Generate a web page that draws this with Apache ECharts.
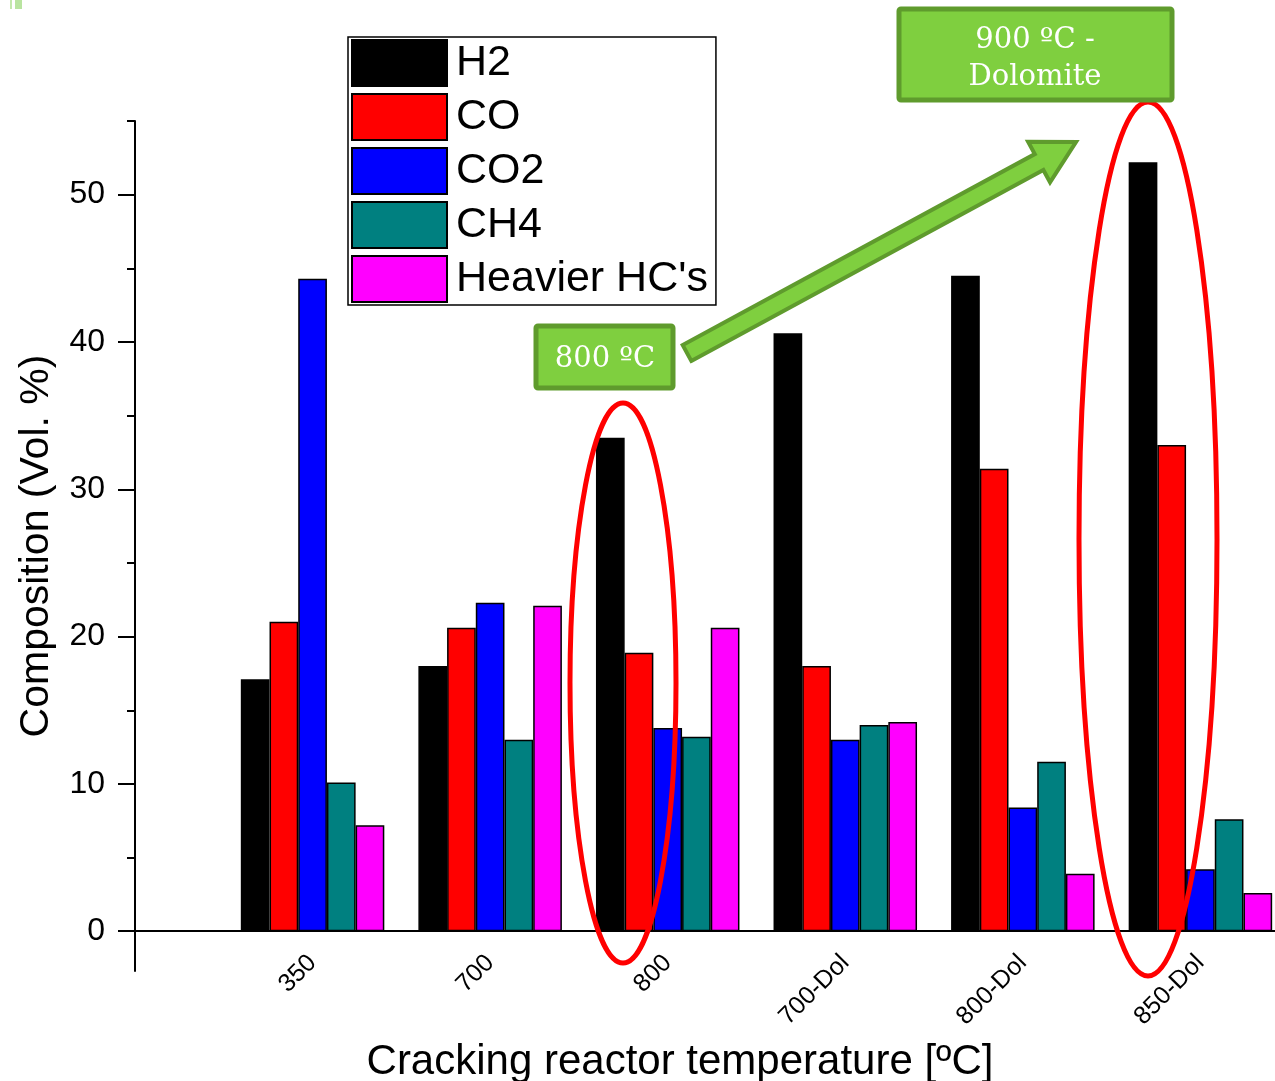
<!DOCTYPE html>
<html>
<head>
<meta charset="utf-8">
<script src="https://cdn.jsdelivr.net/npm/echarts@6/dist/echarts.min.js"></script>
<style>
  html, body { margin: 0; padding: 0; background: #fff; }
  #chart { width: 1275px; height: 1081px; }
</style>
</head>
<body>
<div id="chart"></div>
<script>
  // categories (x axis)
  const categories = ['350', '700', '800', '700-Dol', '800-Dol', '850-Dol'];
  // composition, vol. %
  const h2 = [17.1, 18.0, 33.5, 40.6, 44.5, 52.2];
  const co = [21.0, 20.6, 18.9, 18.0, 31.4, 33.0];
  const co2 = [44.3, 22.3, 13.8, 13.0, 8.4, 4.2];
  const ch4 = [10.1, 13.0, 13.2, 14.0, 11.5, 7.6];
  const heavier = [7.2, 22.1, 20.6, 14.2, 3.9, 2.6];
  const majorTicks = [0, 10, 20, 30, 40, 50];
  const minorTicks = [5, 15, 25, 35, 45, 55];

  const FONT = 'Liberation Sans, Arial, sans-serif';
  const SERIF = 'DejaVu Serif, serif';
  const GREEN = '#7fcf3f';
  const GREEN_DARK = '#5f9b2d';

  function toPoints(arr) {
    return arr.map((v, i) => [i + 1, v]);
  }

  function barSeries(name, color, values) {
    return {
      name: name,
      type: 'bar',
      barWidth: 28.7,
      barGap: '0%',
      itemStyle: { color: color, borderColor: '#000', borderWidth: 1.5 },
      data: toPoints(values)
    };
  }

  // arrow polygon (annotation) from tail to tip
  function arrowPoints(tail, tip, body, head, headLen) {
    const dx = tip[0] - tail[0], dy = tip[1] - tail[1];
    const len = Math.sqrt(dx * dx + dy * dy);
    const ux = dx / len, uy = dy / len;
    const nx = -uy, ny = ux;
    const hb = [tip[0] - ux * headLen, tip[1] - uy * headLen];
    return [
      [tail[0] + nx * body, tail[1] + ny * body],
      [hb[0] + nx * body, hb[1] + ny * body],
      [hb[0] + nx * head, hb[1] + ny * head],
      tip,
      [hb[0] - nx * head, hb[1] - ny * head],
      [hb[0] - nx * body, hb[1] - ny * body],
      [tail[0] - nx * body, tail[1] - ny * body]
    ];
  }

  const chart = echarts.init(document.getElementById('chart'));
  const option = {
    backgroundColor: '#fff',
    animation: false,
    grid: { left: 135, right: 0, top: 121, bottom: 110, outerBoundsMode: 'none', containLabel: false },
    legend: {
      orient: 'vertical',
      left: 348,
      top: 37,
      itemWidth: 95,
      itemHeight: 46,
      itemGap: 6,
      padding: [2, 8, 2, 3],
      borderColor: '#000',
      borderWidth: 1.5,
      backgroundColor: '#fff',
      icon: 'rect',
      itemStyle: { borderColor: '#000', borderWidth: 2 },
      textStyle: { fontFamily: FONT, fontSize: 43, lineHeight: 46, color: '#000', padding: [0, 0, 0, 4] },
      data: ['H2', 'CO', 'CO2', 'CH4', "Heavier HC's"]
    },
    xAxis: {
      type: 'value',
      min: 0,
      max: 6.42,
      name: 'Cracking reactor temperature [ºC]',
      nameLocation: 'middle',
      nameGap: 70,
      nameTextStyle: { fontFamily: FONT, fontSize: 42, color: '#000', padding: [0, 50, 0, 0] },
      axisLine: { onZero: true, lineStyle: { color: '#000', width: 2 } },
      axisTick: { show: false },
      splitLine: { show: false },
      axisLabel: {
        customValues: [1, 2, 3, 4, 5, 6],
        formatter: v => categories[Math.round(v) - 1],
        rotate: 45,
        margin: -12,
        fontFamily: FONT,
        fontSize: 25,
        color: '#000'
      }
    },
    yAxis: [{
      type: 'value',
      min: -2.7,
      max: 55,
      name: 'Composition (Vol. %)',
      nameLocation: 'middle',
      nameRotate: 90,
      nameGap: 78,
      nameTextStyle: { fontFamily: FONT, fontSize: 41, color: '#000' },
      axisLine: { show: true, onZero: false, lineStyle: { color: '#000', width: 2 } },
      axisTick: { show: true, customValues: majorTicks, length: 17, lineStyle: { color: '#000', width: 2 } },
      axisLabel: { customValues: majorTicks, margin: 30, fontFamily: FONT, fontSize: 32, color: '#000' },
      splitLine: { show: false }
    }, {
      type: 'value',
      min: -2.7,
      max: 55,
      position: 'left',
      offset: 0,
      axisLine: { show: false, onZero: false },
      axisTick: { show: true, customValues: minorTicks, length: 8, lineStyle: { color: '#000', width: 2 } },
      axisLabel: { show: false },
      splitLine: { show: false }
    }],
    series: [
      barSeries('H2', '#000000', h2),
      barSeries('CO', '#ff0000', co),
      barSeries('CO2', '#0000ff', co2),
      barSeries('CH4', '#008080', ch4),
      barSeries("Heavier HC's", '#ff00ff', heavier)
    ],
    graphic: [
      // little artefact in the corner
      { type: 'rect', z: 100, shape: { x: 10, y: 0, width: 2, height: 9 }, style: { fill: '#c4e8ad' } },
      { type: 'rect', z: 100, shape: { x: 15, y: 0, width: 7, height: 9 }, style: { fill: '#b9e4a0' } },
      // red ellipses
      { type: 'ellipse', z: 100, shape: { cx: 623, cy: 683, rx: 53, ry: 280 },
        style: { fill: 'none', stroke: '#ff0000', lineWidth: 5 } },
      { type: 'ellipse', z: 100, shape: { cx: 1148, cy: 539, rx: 69, ry: 437 },
        style: { fill: 'none', stroke: '#ff0000', lineWidth: 5 } },
      // arrow
      { type: 'polygon', z: 101, shape: { points: arrowPoints([687, 353], [1076, 142], 9, 23, 42) },
        style: { fill: GREEN, stroke: GREEN_DARK, lineWidth: 4, lineJoin: 'miter' } },
      // boxes
      { type: 'rect', z: 102, shape: { x: 536, y: 326, width: 137, height: 62, r: 2 },
        style: { fill: GREEN, stroke: GREEN_DARK, lineWidth: 5 } },
      { type: 'text', z: 103, x: 605, y: 359,
        style: { text: '800 ºC', font: '29px ' + SERIF, fill: '#fff', align: 'center', verticalAlign: 'middle' } },
      { type: 'rect', z: 102, shape: { x: 899, y: 9, width: 273, height: 91, r: 2 },
        style: { fill: GREEN, stroke: GREEN_DARK, lineWidth: 5 } },
      { type: 'text', z: 103, x: 1035, y: 59,
        style: { text: '900 ºC -\nDolomite', font: '29px ' + SERIF, lineHeight: 37, fill: '#fff', align: 'center', verticalAlign: 'middle' } }
    ]
  };
  chart.setOption(option);
</script>
</body>
</html>
